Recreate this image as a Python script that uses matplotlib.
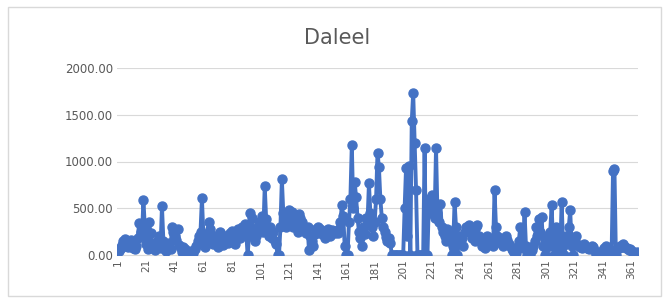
import matplotlib
matplotlib.use("Agg")
import matplotlib.pyplot as plt
from matplotlib.patches import Rectangle

title = "Daleel"
vals_001_020 = [60, 45, 80, 110, 150, 170, 130, 90, 120, 160, 140, 80, 60, 100, 180, 340, 250, 200, 590, 300]
vals_021_040 = [120, 60, 350, 230, 90, 70, 50, 140, 110, 200, 80, 520, 150, 60, 40, 90, 130, 60, 300, 250]
vals_041_060 = [200, 160, 280, 110, 70, 30, 90, 60, 20, 10, 0, 40, 0, 20, 60, 100, 150, 200, 250, 605]
vals_061_080 = [220, 90, 150, 200, 350, 280, 180, 120, 200, 160, 90, 140, 250, 180, 110, 200, 170, 130, 210, 240]
vals_081_100 = [260, 180, 120, 200, 280, 220, 180, 300, 260, 330, 250, 0, 200, 445, 400, 280, 150, 200, 300, 350]
vals_101_120 = [300, 420, 250, 735, 380, 260, 200, 300, 180, 250, 150, 120, 0, 0, 300, 810, 450, 380, 300, 420]
vals_121_140 = [480, 350, 460, 300, 420, 380, 250, 440, 400, 350, 300, 280, 230, 300, 50, 200, 150, 100, 220, 280]
vals_141_160 = [300, 250, 280, 220, 260, 180, 230, 280, 240, 200, 270, 250, 230, 260, 240, 280, 350, 530, 420, 100]
vals_161_180 = [0, 0, 350, 600, 1180, 500, 780, 620, 400, 250, 180, 100, 300, 220, 400, 350, 765, 450, 300, 200]
vals_181_200 = [350, 600, 1095, 940, 600, 400, 300, 250, 190, 150, 180, 130, 0, 0, 0, 0, 0, 0, 0, 0]
vals_201_220 = [0, 500, 935, 200, 950, 0, 1435, 1735, 1200, 700, 0, 0, 0, 0, 0, 1140, 0, 0, 600, 450]
vals_221_240 = [640, 550, 400, 1140, 450, 350, 550, 300, 250, 200, 150, 280, 200, 150, 0, 100, 565, 300, 0, 200]
vals_241_260 = [150, 180, 100, 250, 300, 280, 320, 250, 180, 200, 150, 300, 320, 200, 150, 100, 120, 80, 150, 200]
vals_261_280 = [180, 150, 120, 100, 690, 300, 200, 150, 180, 120, 100, 150, 200, 160, 120, 100, 60, 40, 0, 20]
vals_281_300 = [80, 150, 300, 100, 80, 460, 100, 0, 0, 0, 50, 100, 150, 300, 200, 380, 250, 405, 100, 0]
vals_301_320 = [80, 200, 150, 250, 530, 100, 0, 300, 200, 50, 0, 565, 100, 0, 200, 150, 300, 480, 100, 0]
vals_321_340 = [150, 200, 120, 100, 90, 80, 100, 120, 90, 80, 60, 70, 100, 90, 50, 0, 0, 0, 20, 30]
vals_341_365 = [50, 80, 100, 80, 60, 0, 0, 900, 925, 0, 60, 80, 100, 90, 120, 100, 80, 70, 50, 60, 40, 20, 0, 10, 30]
y_ticks = [0, 500, 1000, 1500, 2000]

values = (vals_001_020 + vals_021_040 + vals_041_060 + vals_061_080 + vals_081_100 +
          vals_101_120 + vals_121_140 + vals_141_160 + vals_161_180 + vals_181_200 +
          vals_201_220 + vals_221_240 + vals_241_260 + vals_261_280 + vals_281_300 +
          vals_301_320 + vals_321_340 + vals_341_365)
days = list(range(1, len(values) + 1))
x_ticks = days[::20]

fig = plt.figure(figsize=(6.67, 3.03), dpi=100)
fig.patches.append(Rectangle((8/667, 7/303), 653/667, 289/303, transform=fig.transFigure,
                             fill=False, edgecolor="#D9D9D9", lw=1.0))
ax = fig.add_axes([117/667, (303-255)/303, 521/667, 187/303])
ax.plot(days, values, color="#4472C4", lw=2.8, marker="o", markersize=6.5,
        markerfacecolor="#4472C4", markeredgecolor="#4472C4", zorder=3)
ax.set_xlim(0.5, len(values) + 0.5)
ax.set_ylim(0, 2000)
ax.set_yticks(y_ticks)
ax.set_yticklabels([f"{v:.2f}" for v in y_ticks], fontsize=8.5, color="#595959")
ax.set_xticks(x_ticks)
ax.set_xticklabels([str(t) for t in x_ticks], rotation=90, fontsize=7.5, color="#595959")
ax.grid(axis="y", color="#D9D9D9", lw=0.8, zorder=0)
for s in ["top", "right", "left"]:
    ax.spines[s].set_visible(False)
ax.spines["bottom"].set_color("#D9D9D9")
ax.tick_params(axis="both", length=0, pad=3)
ax.set_axisbelow(True)
fig.text(0.505, 0.875, title, ha="center", va="center", fontsize=15, color="#595959")
fig.savefig("out.png", dpi=100)
